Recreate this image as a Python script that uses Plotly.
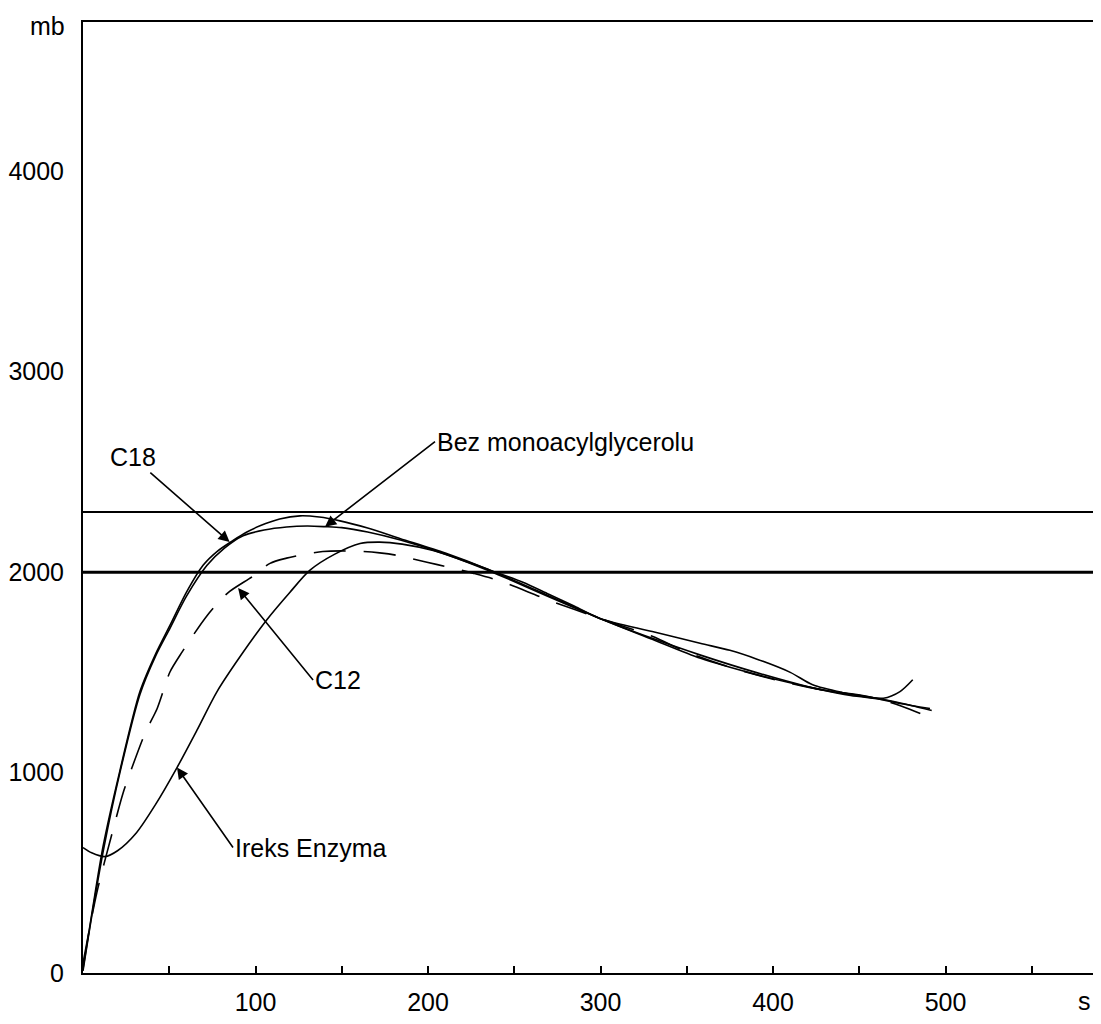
import plotly.graph_objects as go

# ---- data (time in s, consistency in mb) ----
ireks_x = [0, 5, 12.8, 20, 31, 42, 54.5, 66, 77.7, 92, 106.7, 120, 131.6, 146, 160.6, 172, 185, 203, 220, 236,
           255, 270, 285, 300, 330, 357.7, 375, 390.7, 410, 423, 440, 457, 473.6, 491]
ireks_y = [626, 600, 581, 610, 700, 840, 1025, 1210, 1404, 1590, 1764, 1900, 2010, 2090, 2143, 2150, 2140, 2108, 2060, 2010,
           1950, 1890, 1830, 1768, 1704, 1645, 1610, 1566, 1500, 1438, 1400, 1375, 1345, 1320]

c18_x = [0, 5, 11.6, 21.4, 33, 42, 50.4, 60, 69.6, 78, 87, 95, 102.6, 114, 125.8, 137, 149, 165, 184, 210, 236,
         268, 300, 330, 358, 390, 425, 445, 464, 473.6, 481]
c18_y = [20, 290, 630, 1010, 1404, 1590, 1734, 1900, 2034, 2105, 2158, 2200, 2231, 2265, 2281, 2275, 2256, 2220, 2167, 2095, 2010,
         1890, 1768, 1670, 1586, 1500, 1419, 1390, 1371, 1404, 1463]

bez_x = [0, 5, 12.2, 21.4, 33, 42, 50.4, 60, 71.9, 82, 92.8, 105, 118, 130, 140.3, 150, 165, 184, 210, 236,
         268, 300, 330, 358, 390, 425, 445, 464, 480, 492]
bez_y = [10, 280, 630, 1000, 1390, 1580, 1720, 1880, 2034, 2120, 2182, 2210, 2225, 2230, 2227, 2222, 2200, 2160, 2090, 2005,
         1885, 1768, 1665, 1570, 1490, 1419, 1385, 1365, 1335, 1310]

c12_x = [0, 8, 17.4, 23.2, 28.4, 36, 43, 46.4, 50.4, 57.4, 71.9, 84, 98.6, 108.4, 118, 128.7, 139, 150, 162.3, 172,
         182, 199.4, 212, 226, 241.7, 270, 300, 330, 350, 371, 388, 410, 430, 455, 475, 489]
c12_y = [49, 400, 714, 897, 1025, 1197, 1320, 1404, 1502, 1601, 1783, 1897, 1980, 2044, 2070, 2089, 2103, 2106, 2103, 2096,
         2084, 2049, 2025, 1995, 1956, 1860, 1768, 1680, 1601, 1537, 1493, 1445, 1410, 1380, 1330, 1281]

ref_lines = [2000, 2300]
x_ticks = [100, 200, 300, 400, 500]
y_ticks = [0, 1000, 2000, 3000, 4000]

FONT = "Liberation Sans, Arial, sans-serif"
FS = 25

fig = go.Figure()
line_style = dict(color="black", width=1.6, shape="spline", smoothing=0.8)
fig.add_trace(go.Scatter(x=ireks_x, y=ireks_y, mode="lines", line=line_style, name="Ireks Enzyma"))
fig.add_trace(go.Scatter(x=c18_x, y=c18_y, mode="lines", line=line_style, name="C18"))
fig.add_trace(go.Scatter(x=bez_x, y=bez_y, mode="lines", line=line_style, name="Bez monoacylglycerolu"))
fig.add_trace(go.Scatter(x=c12_x, y=c12_y, mode="lines",
                         line=dict(color="black", width=1.6, dash="32px,18px", shape="spline", smoothing=0.8),
                         name="C12"))

for v, w in zip(ref_lines, [3, 2]):
    fig.add_shape(type="line", xref="paper", x0=0, x1=1, yref="y", y0=v, y1=v,
                  line=dict(color="black", width=w))

arrow = dict(showarrow=True, arrowhead=2, arrowsize=1.4, arrowwidth=1.6, arrowcolor="black",
             axref="pixel", ayref="pixel", font=dict(family=FONT, size=FS, color="black"))
fig.add_annotation(x=85, y=2150, text="C18", ax=-97, ay=-85, **arrow)
fig.add_annotation(x=140.3, y=2227, text="Bez monoacylglycerolu", ax=110, ay=-85, xanchor="left", **arrow)
fig.add_annotation(x=89.9, y=1921, text="C12", ax=75, ay=92, xanchor="left", **arrow)
fig.add_annotation(x=54.5, y=1025, text="Ireks Enzyma", ax=56, ay=80, xanchor="left", **arrow)

fig.add_annotation(xref="paper", yref="paper", x=0, y=1, text="mb", showarrow=False,
                   xanchor="right", yanchor="middle", xshift=-16, yshift=-4, font=dict(family=FONT, size=FS, color="black"))
fig.add_annotation(xref="paper", yref="paper", x=1, y=0, text="s", showarrow=False,
                   xanchor="right", yanchor="top", yshift=-12, font=dict(family=FONT, size=FS, color="black"))

# page body has an 8px margin, so the figure is sized to fit the 1101x1024 window
fig.update_layout(
    width=1085, height=1008,
    margin=dict(l=75, r=0, t=14, b=31),
    paper_bgcolor="white", plot_bgcolor="white",
    showlegend=False,
    font=dict(family=FONT, size=FS, color="black"),
    xaxis=dict(range=[0, 585.5], tickvals=x_ticks, ticks="inside", ticklen=7, tickwidth=1.5, tickcolor="black",
               showgrid=False, zeroline=False, showline=True, linecolor="black", linewidth=2, mirror=True,
               ticklabelstandoff=6,
               minor=dict(ticks="inside", dtick=50, tick0=0, ticklen=7, tickwidth=1.5, tickcolor="black", showgrid=False)),
    yaxis=dict(range=[0, 4745], tickvals=y_ticks, ticks="", showgrid=False, zeroline=False,
               showline=True, linecolor="black", linewidth=2, ticklabelstandoff=12),
)

fig.write_html("out.html")
